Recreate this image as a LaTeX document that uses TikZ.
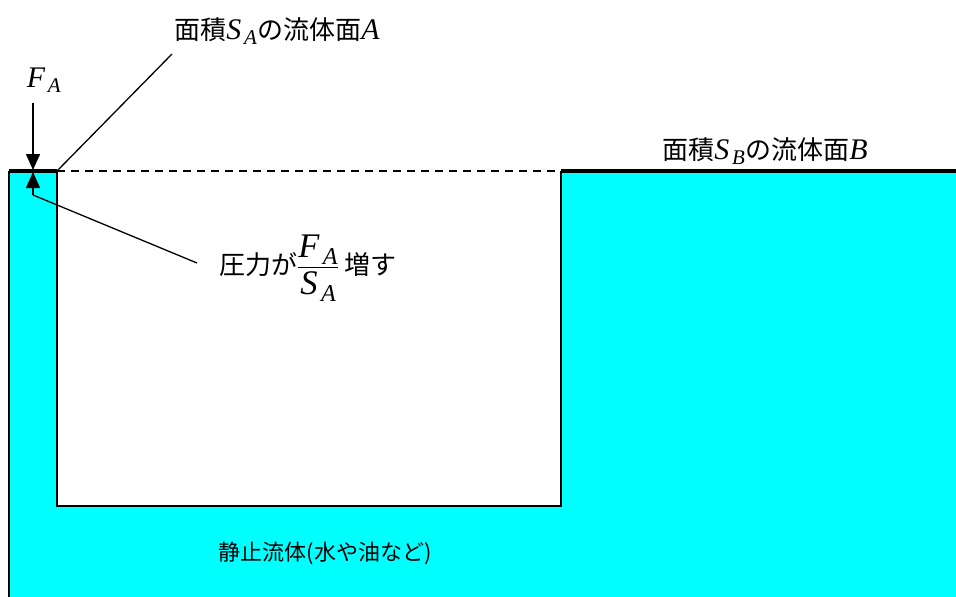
\documentclass[tikz,border=0pt]{standalone}
\usepackage{amsmath}
\usepackage{fontspec}
\setmainfont[Scale=1.15]{Liberation Serif}
\newfontfamily\jp{Noto Sans CJK JP}
\usetikzlibrary{arrows.meta}
\definecolor{fluid}{RGB}{0,255,255}
\tikzset{
  lbl/.style={font=\fontsize{26}{30}\selectfont, inner sep=0pt},
  small/.style={font=\fontsize{22}{26}\selectfont, inner sep=0pt},
  wall/.style={line width=2pt, black},
  surf/.style={line width=4pt, black},
  lead/.style={line width=1.3pt, black},
  force/.style={line width=1.5pt, -{Triangle[width=14pt,length=16pt]}},
}
\newcommand{\vF}{\textit{F}}
\newcommand{\vS}{\textit{S}}
\newcommand{\vA}{\textit{A}}
\newcommand{\vB}{\textit{B}}
\begin{document}
\begin{tikzpicture}[x=1pt,y=-1pt]
\useasboundingbox (0,0) rectangle (956,597);
% fluid
\fill[fluid] (9,171) -- (57,171) -- (57,506) -- (561,506) -- (561,171) -- (956,171) -- (956,597) -- (9,597) -- cycle;
% coordinates
\coordinate (tl) at (9,171);
\coordinate (ptA) at (57,171);
\coordinate (ib) at (57,506);
\coordinate (ibr) at (561,506);
\coordinate (ptB) at (561,171);
\coordinate (tr) at (956,171);
\coordinate (bl) at (9,597);
% walls
\draw[wall] (tl) -- (bl);
\draw[wall] (ptA) -- (ib) -- (ibr) -- (ptB);
\draw[surf] (tl) -- (ptA);
\draw[surf] (ptB) -- (tr);
\draw[line width=1.3pt, dash pattern=on 8pt off 6pt] (ptA) -- (ptB);
% labels
\node[lbl] (labA) at (277,31) {{\jp 面積}$\vS_{\,\vA}${\jp の流体面}\vA};
\node[lbl] (FA) at (44,80) {$\vF_{\,\vA}$};
\node[lbl] (labB) at (765,151) {{\jp 面積}$\vS_{\,\vB}${\jp の流体面}\vB};
\node[lbl, anchor=west] (press) at (219,268) {{\jp 圧力が}{\fontsize{30}{34}\selectfont$\dfrac{\vF_{\,\vA}}{\vS_{\,\vA}}$}\,{\jp 増す}};
\node[small] (still) at (325,553) {\jp 静止流体(水や油など)};
% leaders and arrows
\coordinate (leadA) at (172,54);
\draw[lead] (ptA) -- (leadA);
\coordinate (fTop) at (33,103);
\coordinate (fTip) at (33,170);
\draw[force] (fTop) -- (fTip);
\coordinate (pBase) at (33,195);
\coordinate (pTip) at (33,172);
\coordinate (pEnd) at (197,263);
\draw[force] (pBase) -- (pTip);
\draw[lead] (pBase) -- (pEnd);
\end{tikzpicture}
\end{document}
